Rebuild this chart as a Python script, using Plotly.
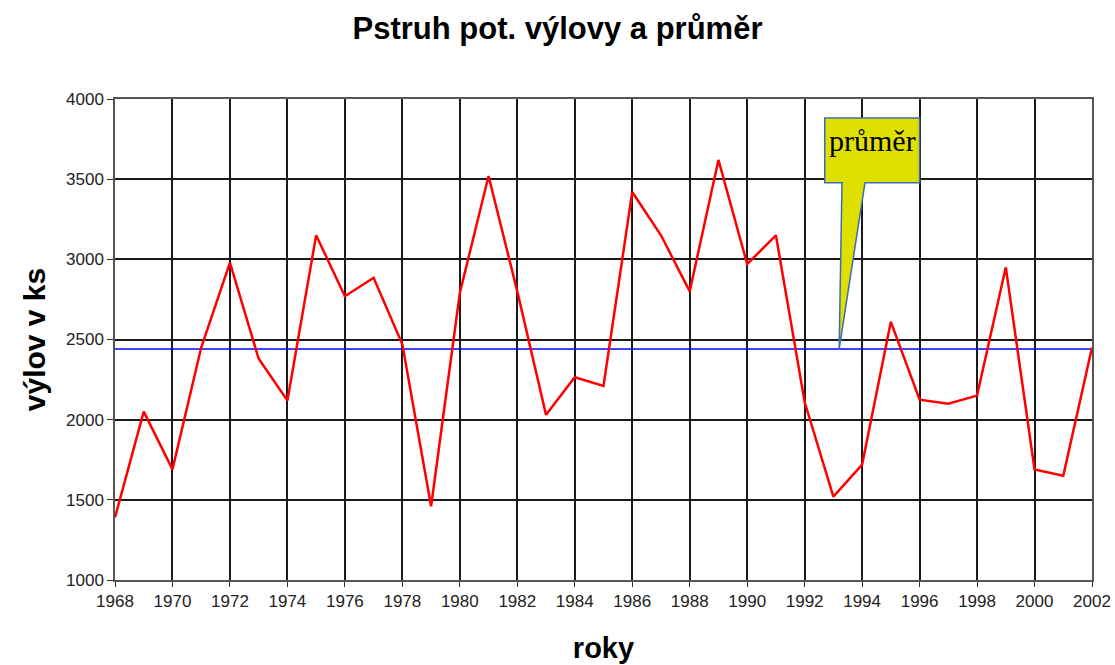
import plotly.graph_objects as go

years = list(range(1968, 2003))
vylov = [1390, 2050, 1690, 2450, 2980, 2380, 2120, 3150, 2770, 2885,
         2470, 1460, 2790, 3520, 2800, 2030, 2265, 2210, 3420, 3150,
         2800, 3620, 2970, 3150, 2110, 1520, 1720, 2610, 2125, 2100,
         2150, 2950, 1690, 1650, 2450]
prumer = 2440
x_ticks = list(range(1968, 2003, 2))
y_ticks = list(range(1000, 4001, 500))

W, H = 1115, 665

fig = go.Figure()
fig.add_trace(go.Scatter(x=years, y=[prumer] * len(years), mode="lines",
                         line=dict(color="#0000FF", width=1.5), showlegend=False,
                         hoverinfo="skip"))
fig.add_trace(go.Scatter(x=years, y=vylov, mode="lines",
                         line=dict(color="#FF0000", width=2.5), showlegend=False))

# callout box with pointer toward the average line
bx0, bx1, by0, by1 = 1992.7, 1996.0, 3477, 3882
px0, px1, tipx = 1993.3, 1994.1, 1993.2
path = (f"M {bx0},{by1} L {bx1},{by1} L {bx1},{by0} L {px1},{by0} "
        f"L {tipx},{prumer} L {px0},{by0} L {bx0},{by0} Z")
fig.add_shape(type="path", path=path, xref="x", yref="y",
              fillcolor="#E0E000", line=dict(color="#3D6CB0", width=1.5), layer="above")
fig.add_annotation(x=(bx0 + bx1) / 2, y=3740, xref="x", yref="y", text="průměr",
                   showarrow=False, font=dict(family="Liberation Serif", size=30, color="black"))

fig.update_layout(
    width=W, height=H,
    margin=dict(l=115, r=23, t=99, b=85, autoexpand=False),
    paper_bgcolor="white", plot_bgcolor="white",
    title=dict(text="<b>Pstruh pot. výlovy a průměr</b>", x=0.5, xanchor="center",
               y=1 - 28 / H, yanchor="middle", automargin=False,
               font=dict(family="Liberation Sans", size=31, color="black")),
    font=dict(family="Liberation Sans", color="#222"),
)
fig.update_xaxes(range=[1968, 2002], tickvals=x_ticks, ticktext=[str(v) for v in x_ticks],
                 showgrid=True, gridcolor="#1a1a1a", gridwidth=1.5,
                 showline=True, linecolor="#555", linewidth=1.5, mirror=True,
                 ticks="outside", ticklen=5, tickcolor="#333", automargin=False,
                 ticklabeloverflow="allow",
                 tickfont=dict(size=17, color="#222"), zeroline=False,
                 title=dict(text="<b>roky</b>", standoff=28,
                            font=dict(family="Liberation Sans", size=29, color="black")))
fig.update_yaxes(range=[1000, 4000], tickvals=y_ticks,
                 showgrid=True, gridcolor="#1a1a1a", gridwidth=1.5,
                 showline=True, linecolor="#555", linewidth=1.5, mirror=True,
                 ticks="outside", ticklen=6, tickcolor="#333", automargin=False,
                 ticklabeloverflow="allow",
                 tickfont=dict(size=17, color="#222"), zeroline=False,
                 title=dict(text="<b>výlov v ks</b>", standoff=12,
                            font=dict(family="Liberation Sans", size=30, color="black")))

fig.write_html("out.html", config={"displayModeBar": False},
               post_script="document.body.style.margin='0';document.body.style.overflow='hidden';")
